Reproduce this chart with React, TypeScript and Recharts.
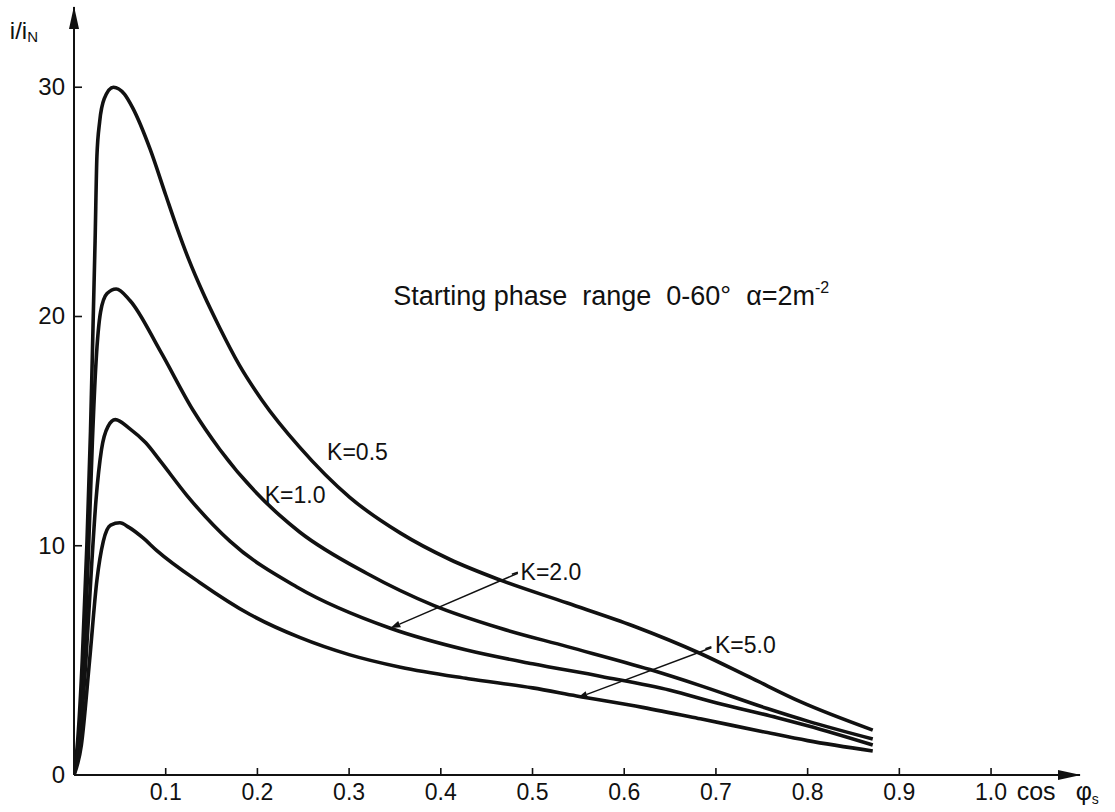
import React from 'react';
import { LineChart, Line, XAxis, YAxis, ReferenceLine, ReferenceDot } from 'recharts';

// cos(phi_s) values and i/iN values for each K curve
const K05_COS = [0, 0.004, 0.009, 0.014, 0.018, 0.021, 0.023, 0.025, 0.028, 0.033, 0.043, 0.055, 0.064, 0.083, 0.1, 0.112, 0.125, 0.141, 0.159, 0.18, 0.205, 0.246, 0.301, 0.356, 0.41, 0.465, 0.538, 0.61, 0.683, 0.74, 0.792, 0.871];
const K05_I = [0, 1.5, 5, 10, 15, 20, 23.3, 27, 28.5, 29.5, 30, 29.7, 29.1, 27.3, 25.3, 23.9, 22.5, 21.0, 19.5, 17.9, 16.35, 14.3, 12.1, 10.55, 9.4, 8.5, 7.5, 6.5, 5.3, 4.2, 3.2, 1.96];

const K10_COS = [0, 0.005, 0.011, 0.016, 0.02, 0.024, 0.029, 0.036, 0.046, 0.061, 0.094, 0.13, 0.159, 0.225, 0.246, 0.319, 0.392, 0.465, 0.538, 0.628, 0.683, 0.756, 0.8, 0.871];
const K10_I = [0, 1.5, 5, 10, 14.5, 18, 20.2, 21, 21.2, 20.7, 18.5, 15.9, 14.2, 11.3, 10.6, 8.8, 7.4, 6.4, 5.6, 4.6, 3.9, 2.9, 2.35, 1.57];

const K20_COS = [0, 0.006, 0.013, 0.019, 0.024, 0.03, 0.037, 0.045, 0.061, 0.078, 0.094, 0.123, 0.17, 0.243, 0.345, 0.428, 0.5, 0.575, 0.65, 0.7, 0.767, 0.8, 0.871];
const K20_I = [0, 1.5, 5, 9, 12, 14.2, 15.2, 15.5, 15.1, 14.5, 13.7, 12.2, 10.2, 8.2, 6.4, 5.45, 4.85, 4.3, 3.7, 3.15, 2.5, 2.15, 1.31];

const K50_COS = [0, 0.008, 0.017, 0.025, 0.032, 0.04, 0.05, 0.06, 0.075, 0.09, 0.137, 0.192, 0.246, 0.3, 0.356, 0.43, 0.5, 0.548, 0.62, 0.683, 0.75, 0.8, 0.871];
const K50_I = [0, 1.3, 5, 8.5, 10.2, 10.9, 11.0, 10.8, 10.35, 9.8, 8.4, 7.0, 6.0, 5.25, 4.7, 4.2, 3.8, 3.45, 2.95, 2.45, 1.9, 1.5, 1.05];

const X_TICKS = [0.1, 0.2, 0.3, 0.4, 0.5, 0.6, 0.7, 0.8, 0.9, 1.0];
const X_TICK_LABELS = ['0.1', '0.2', '0.3', '0.4', '0.5', '0.6', '0.7', '0.8', '0.9', '1.0'];
const Y_TICKS = [0, 10, 20, 30];
const CURVE_LABELS = ['K=0.5', 'K=1.0', 'K=2.0', 'K=5.0'];

const toPoints = (xs: number[], ys: number[]) => xs.map((x, i) => ({ x, y: ys[i] }));
const SERIES = [
  toPoints(K05_COS, K05_I),
  toPoints(K10_COS, K10_I),
  toPoints(K20_COS, K20_I),
  toPoints(K50_COS, K50_I),
];

const FONT = '"Liberation Sans", Arial, sans-serif';
const INK = '#111';

const XTick = (props: any) => {
  const { x, y, payload } = props;
  const idx = X_TICKS.indexOf(payload.value);
  return (
    <g>
      <line x1={x} y1={y} x2={x} y2={y - 7} stroke={INK} strokeWidth={1.6} />
      <text x={x} y={y + 25} textAnchor="middle" fontFamily={FONT} fontSize={23} fill={INK}>
        {idx >= 0 ? X_TICK_LABELS[idx] : ''}
      </text>
    </g>
  );
};

const YTick = (props: any) => {
  const { x, y, payload } = props;
  return (
    <g>
      {payload.value !== 0 && <line x1={x} y1={y} x2={x + 8} y2={y} stroke={INK} strokeWidth={1.6} />}
      <text x={x - 9} y={y + 8} textAnchor="end" fontFamily={FONT} fontSize={24} fill={INK}>
        {String(payload.value)}
      </text>
    </g>
  );
};

const arrowLine = (props: any) => {
  const { x1, y1, x2, y2 } = props;
  const ang = Math.atan2(y2 - y1, x2 - x1);
  const L = 10, W = 3.5;
  const bx = x2 - L * Math.cos(ang), by = y2 - L * Math.sin(ang);
  const px = -Math.sin(ang) * W, py = Math.cos(ang) * W;
  return (
    <g>
      <line x1={x1 - 6} y1={y1 + 1} x2={x1} y2={y1 - 1} stroke={INK} strokeWidth={1.4} />
      <line x1={x1} y1={y1} x2={bx} y2={by} stroke={INK} strokeWidth={1.4} />
      <polygon points={`${x2},${y2} ${bx + px},${by + py} ${bx - px},${by - py}`} fill={INK} />
    </g>
  );
};

const textShape = (content: React.ReactNode, size = 23) => (props: any) => (
  <text x={props.cx} y={props.cy} fontFamily={FONT} fontSize={size} fill={INK} style={{ whiteSpace: 'pre' }}>
    {content}
  </text>
);

export default function App() {
  return (
    <div style={{ position: 'absolute', left: 0, top: 0, background: '#fff' }}>
      <LineChart width={1115} height={812} margin={{ top: 7, right: 35, bottom: 0, left: 14 }}>
        <XAxis
          type="number"
          dataKey="x"
          domain={[0, 1.097]}
          ticks={X_TICKS}
          allowDataOverflow
          tick={<XTick />}
          tickLine={false}
          tickSize={0}
          tickMargin={0}
          height={37}
          axisLine={{ stroke: INK, strokeWidth: 2 }}
        />
        <YAxis
          type="number"
          domain={[0, 33.5]}
          ticks={Y_TICKS}
          allowDataOverflow
          tick={<YTick />}
          tickLine={false}
          tickSize={0}
          tickMargin={0}
          width={60}
          axisLine={{ stroke: INK, strokeWidth: 2 }}
        />
        {SERIES.map((d, i) => (
          <Line
            key={CURVE_LABELS[i]}
            data={d}
            dataKey="y"
            type="monotone"
            stroke={INK}
            strokeWidth={3.6}
            dot={false}
            activeDot={false}
            isAnimationActive={false}
          />
        ))}
        <ReferenceLine
          segment={[{ x: 0.484, y: 8.8 }, { x: 0.345, y: 6.41 }]}
          ifOverflow="visible"
          shape={arrowLine}
        />
        <ReferenceLine
          segment={[{ x: 0.695, y: 5.55 }, { x: 0.549, y: 3.36 }]}
          ifOverflow="visible"
          shape={arrowLine}
        />
        <ReferenceDot x={0.276} y={13.74} r={0} ifOverflow="visible" shape={textShape(CURVE_LABELS[0])} />
        <ReferenceDot x={0.208} y={11.86} r={0} ifOverflow="visible" shape={textShape(CURVE_LABELS[1])} />
        <ReferenceDot x={0.487} y={8.5} r={0} ifOverflow="visible" shape={textShape(CURVE_LABELS[2])} />
        <ReferenceDot x={0.699} y={5.32} r={0} ifOverflow="visible" shape={textShape(CURVE_LABELS[3])} />
        <ReferenceDot
          x={0.348}
          y={20.5}
          r={0}
          ifOverflow="visible"
          shape={textShape(
            <>
              {'Starting phase  range  0-60°  α=2m'}
              <tspan fontSize={16} dy={-12}>-2</tspan>
            </>,
            27
          )}
        />
        <ReferenceDot
          x={-0.07}
          y={32.1}
          r={0}
          ifOverflow="visible"
          shape={textShape(
            <>
              i/i<tspan fontSize={15} dy={3}>N</tspan>
            </>,
            24
          )}
        />
        <ReferenceDot
          x={1.028}
          y={-1.09}
          r={0}
          ifOverflow="visible"
          shape={textShape(
            <>
              cos<tspan dx={20}>φ</tspan>
              <tspan fontSize={14} dy={4}>s</tspan>
            </>,
            25
          )}
        />
        <ReferenceDot
          x={1.097}
          y={0}
          r={0}
          ifOverflow="visible"
          shape={(p: any) => (
            <polygon points={`${p.cx + 1},${p.cy} ${p.cx - 22},${p.cy - 5} ${p.cx - 22},${p.cy + 5}`} fill={INK} />
          )}
        />
        <ReferenceDot
          x={0}
          y={33.5}
          r={0}
          ifOverflow="visible"
          shape={(p: any) => (
            <polygon points={`${p.cx},${p.cy - 1} ${p.cx - 5},${p.cy + 22} ${p.cx + 5},${p.cy + 22}`} fill={INK} />
          )}
        />
      </LineChart>
    </div>
  );
}
